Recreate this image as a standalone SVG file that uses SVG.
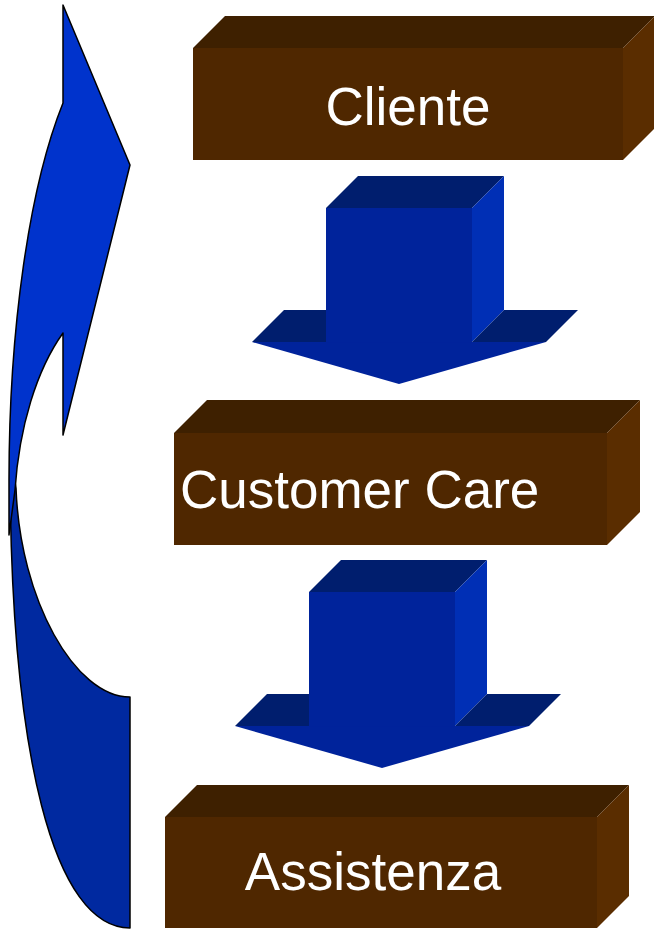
<svg xmlns="http://www.w3.org/2000/svg" width="654" height="930" viewBox="0 0 654 930">
<style>
.front{fill:#4f2700}
.top{fill:#3e2000}
.side{fill:#5a2d00}
.lbl{font-family:"Liberation Sans",Arial,sans-serif;font-size:53px;fill:#ffffff}
.atop{fill:#001e6e}
.afront{fill:#00239b}
.aside{fill:#002fb5}
.cl{fill:#0033cc;stroke:#000;stroke-width:1.5;stroke-linejoin:round}
.cd{fill:#0029a0;stroke:#000;stroke-width:1.5;stroke-linejoin:round}
</style>
<defs>
<g id="downArrow">
<polygon class="atop" points="326,208 358,176 504,176 472,208"/>
<polygon class="aside" points="472,208 504,176 504,310 472,342"/>
<polygon class="atop" points="252,342 284,310 326,310 326,342"/>
<polygon class="atop" points="472,342 504,310 578,310 546,342"/>
<polygon class="afront" points="252,342 546,342 399,384"/>
<rect class="afront" x="326" y="208" width="146" height="134.5"/>
</g>
</defs>
<g id="connectors">
<g id="curved-arrow">
<path class="cd" d="M10,450 C9,760 55,928 130,928 L130,697 C75,697 20,600 16,488 Z"/>
<path class="cl" d="M63,5 L130,165 L63,435 L63,333 A116 229 0 0 0 15,490 L9,535 L9,480 A121 453 0 0 1 63,103 Z"/>
</g>
<g id="arrow-1"><use href="#downArrow"/></g>
<g id="arrow-2"><use href="#downArrow" transform="translate(-17,384)"/></g>
</g>
<g id="node-cliente">
<polygon class="top" points="193,48 225,16 655,16 623,48"/>
<polygon class="side" points="623,48 655,16 655,128 623,160"/>
<rect class="front" x="193" y="48" width="430" height="112"/>
<text class="lbl" x="408" y="125" text-anchor="middle">Cliente</text>
</g>
<g id="node-customer-care">
<polygon class="top" points="174,433 207,400 640,400 607,433"/>
<polygon class="side" points="607,433 640,400 640,512 607,545"/>
<rect class="front" x="174" y="433" width="433" height="112"/>
<text class="lbl" x="180" y="508">Customer Care</text>
</g>
<g id="node-assistenza">
<polygon class="top" points="165,817 197,785 629,785 597,817"/>
<polygon class="side" points="597,817 629,785 629,896 597,928"/>
<rect class="front" x="165" y="817" width="432" height="111"/>
<text class="lbl" x="373" y="890" text-anchor="middle">Assistenza</text>
</g>
</svg>
